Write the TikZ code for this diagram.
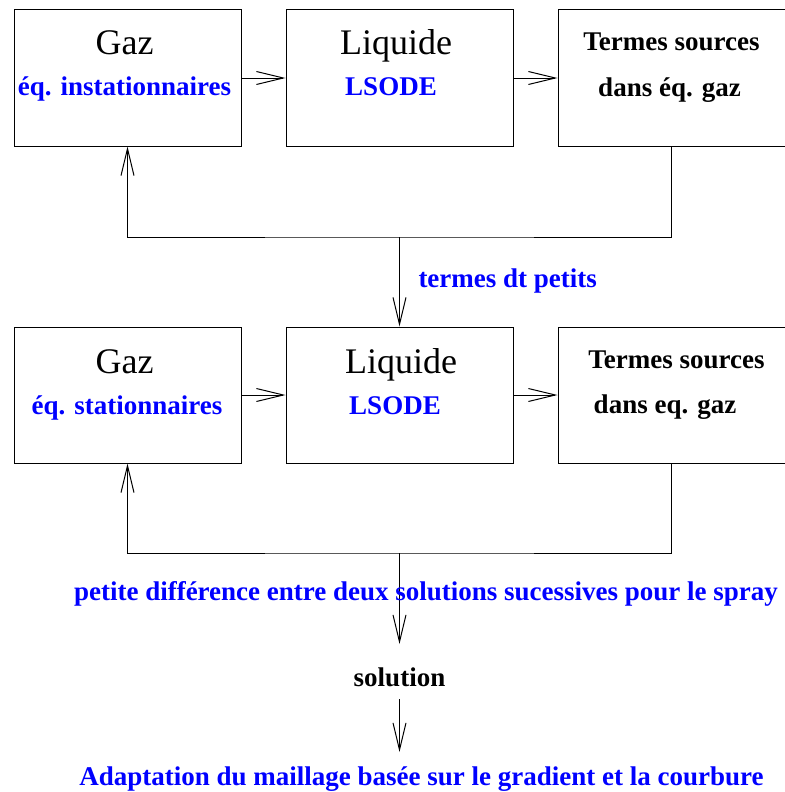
\documentclass[tikz,border=0pt]{standalone}
\usepackage{fontspec}
\setmainfont{Liberation Serif}
\usetikzlibrary{arrows.meta}
\definecolor{labelblue}{RGB}{0,0,255}

\begin{document}
\begin{tikzpicture}[x=1pt,y=-1pt,line width=1pt,
    box/.style={draw,minimum width=227pt,minimum height=136pt,inner sep=0pt},
    big/.style={font=\fontsize{36}{36}\selectfont,anchor=base,inner sep=0pt},
    bold/.style={font=\fontsize{27}{27}\selectfont\bfseries,anchor=base,inner sep=0pt},
    blue/.style={text=labelblue},
    arr/.style={-{Straight Barb[length=27pt,width=13pt]}}]
    \useasboundingbox (0,0) rectangle (784,792);
    % upper row
    \node [box] (gaz1) at (127.5,78) {};
    \node [box] (liq1) at (399.5,78) {};
    \node [box,minimum width=232pt] (src1) at (674,78) {};
    \node [big] at (124.5,55) {Gaz};
    \node [bold,blue] at (124.5,95) {éq. instationnaires};
    \node [big] at (396,55) {Liquide};
    \node [bold,blue] at (391,95) {LSODE};
    \node [bold] at (671.5,51) {Termes sources};
    \node [bold] at (669.5,96) {dans éq. gaz};
    \draw [arr] (gaz1) -- (liq1);
    \draw [arr] (liq1) -- (src1);
    % lower row
    \node [box] (gaz2) at (127.5,395) {};
    \node [box] (liq2) at (399.5,395) {};
    \node [box,minimum width=232pt] (src2) at (674,395) {};
    \node [big] at (124.5,373) {Gaz};
    \node [bold,blue] at (127,414) {éq. stationnaires};
    \node [big] at (401,373) {Liquide};
    \node [bold,blue] at (395,414) {LSODE};
    \node [bold] at (676.5,368) {Termes sources};
    \node [bold] at (665,413) {dans eq. gaz};
    \draw [arr] (gaz2) -- (liq2);
    \draw [arr] (liq2) -- (src2);
    % feedback loops
    \coordinate (j1) at (399.5,237);
    \coordinate (j2) at (399.5,553);
    \coordinate (tip) at (399.5,644);
    \draw [arr] ([xshift=-2.5pt]src1.south) |- (j1) -| (gaz1.south);
    \draw [arr] (j1) -- (liq2.north);
    \node [bold,blue,anchor=base west] (petits) at (418,287) {termes dt petits};
    \draw [arr] ([xshift=-2.5pt]src2.south) |- (j2) -| (gaz2.south);
    \draw [arr] (j2) -- (tip);
    \node [bold,blue] (diff) at (426,600) {petite différence entre deux solutions sucessives pour le spray};
    \node [bold] (sol) at (399.5,686) {solution};
    \coordinate (sol1) at (399.5,699);
    \coordinate (tip2) at (399.5,752);
    \draw [arr] (sol1) -- (tip2);
    \node [bold,blue] (adapt) at (421.5,785) {Adaptation du maillage basée sur le gradient et la courbure};
\end{tikzpicture}
\end{document}
